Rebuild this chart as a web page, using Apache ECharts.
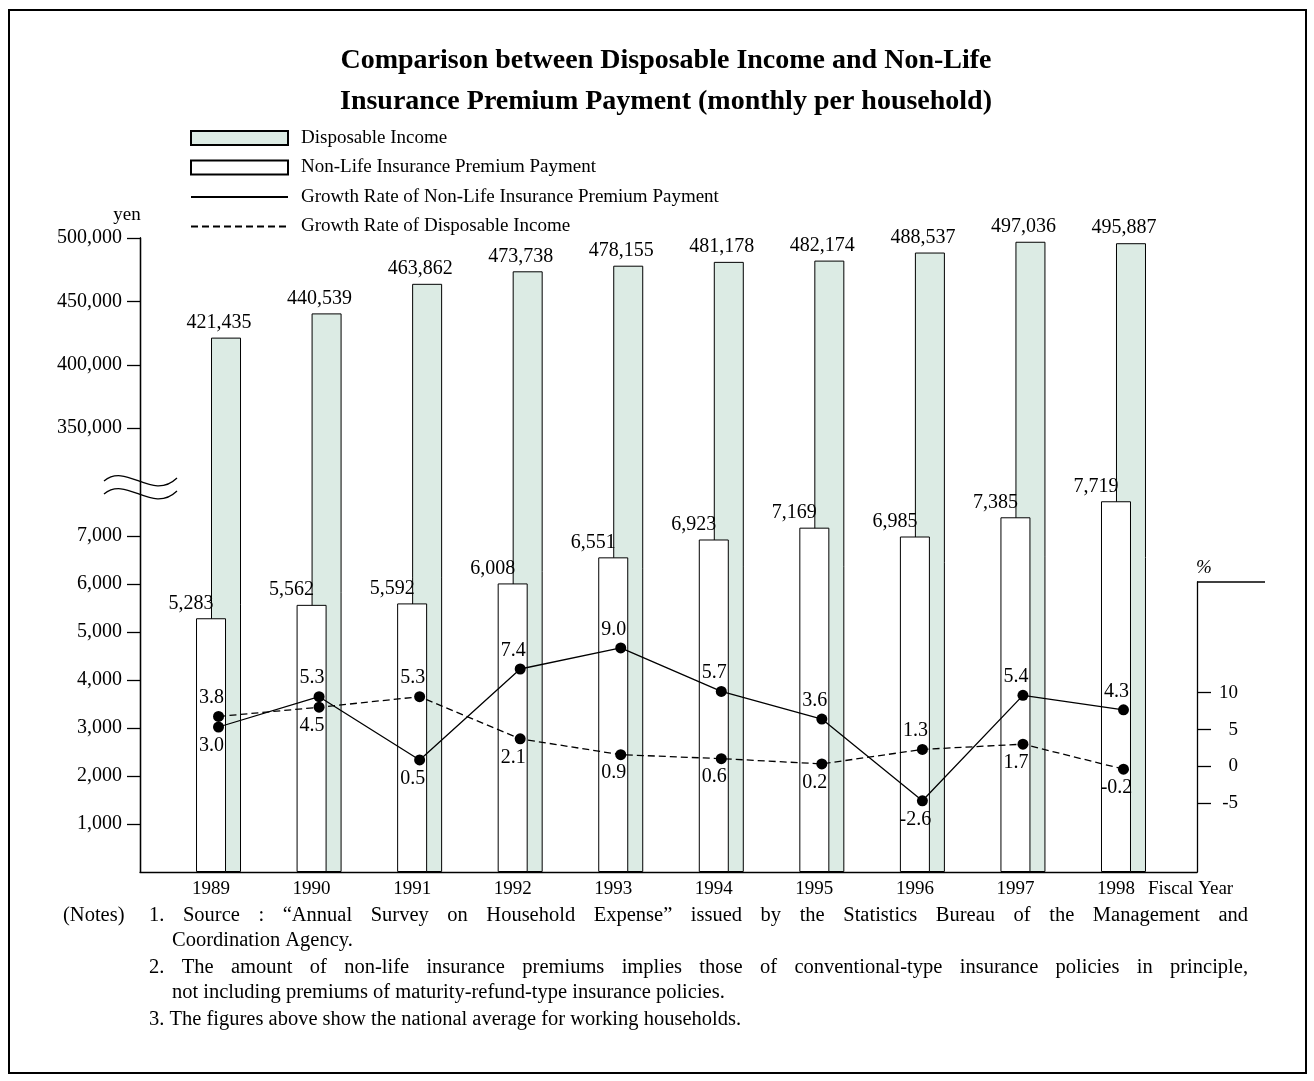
<!DOCTYPE html>
<html>
<head>
<meta charset="utf-8">
<script src="https://cdn.jsdelivr.net/npm/echarts@6/dist/echarts.min.js"></script>
<style>
html, body { margin: 0; padding: 0; background: #fff; }
#main { width: 1314px; height: 1081px; }
</style>
</head>
<body>
<div id="main"></div>
<script>
var chart = echarts.init(document.getElementById('main'));

var years = [1989, 1990, 1991, 1992, 1993, 1994, 1995, 1996, 1997, 1998];
var disposableIncome = [421435, 440539, 463862, 473738, 478155, 481178, 482174, 488537, 497036, 495887];
var premiumPayment = [5283, 5562, 5592, 6008, 6551, 6923, 7169, 6985, 7385, 7719];
var premiumGrowth = [3.0, 5.3, 0.5, 7.4, 9.0, 5.7, 3.6, -2.6, 5.4, 4.3];
var incomeGrowth = [3.8, 4.5, 5.3, 2.1, 0.9, 0.6, 0.2, 1.3, 1.7, -0.2];

var incomeTicks = [350000, 400000, 450000, 500000];
var premiumTicks = [1000, 2000, 3000, 4000, 5000, 6000, 7000];
var rateTicks = [-5, 0, 5, 10];

// which side of the dot each growth label sits on
var premiumGrowthLabelSide = ['bottom', 'top', 'bottom', 'top', 'top', 'top', 'top', 'bottom', 'top', 'top'];
var incomeGrowthLabelSide = ['top', 'bottom', 'top', 'bottom', 'bottom', 'bottom', 'bottom', 'top', 'bottom', 'bottom'];

var notes = [
    '1. Source : \u201cAnnual Survey on Household Expense\u201d issued by the Statistics Bureau of the Management and',
    'Coordination Agency.',
    '2. The amount of non-life insurance premiums implies those of conventional-type insurance policies in principle,',
    'not including premiums of maturity-refund-type insurance policies.',
    '3. The figures above show the national average for working households.'
];

var FONT = 'Liberation Serif';
var GREEN = '#dcebe4';
var NOTE_FONT = '20.5px "Liberation Serif"';

function pairs(vals) {
    return vals.map(function (v, i) { return [years[i], v]; });
}
function rateData(vals, sides) {
    return vals.map(function (v, i) {
        return { value: [years[i], v], label: { position: sides[i] } };
    });
}
function commas(v) {
    return v.toLocaleString('en-US');
}

// notes text, optionally stretched to a right edge like the printed original
var measure = document.createElement('canvas').getContext('2d');
measure.font = NOTE_FONT;
function noteLine(text, x, y, right) {
    if (!right) {
        return [{ type: 'text', x: x, y: y, style: { text: text, font: NOTE_FONT, fill: '#000', align: 'left', verticalAlign: 'top' } }];
    }
    var words = text.split(' ');
    var widths = words.map(function (w) { return measure.measureText(w).width; });
    var total = widths.reduce(function (a, b) { return a + b; }, 0);
    var gap = (right - x - total) / (words.length - 1);
    var cur = x;
    return words.map(function (w, i) {
        var el = { type: 'text', x: cur, y: y, style: { text: w, font: NOTE_FONT, fill: '#000', align: 'left', verticalAlign: 'top' } };
        cur += widths[i] + gap;
        return el;
    });
}

var txt = { fontFamily: FONT, fontSize: 20, color: '#000' };
var txt19 = { fontFamily: FONT, fontSize: 19, color: '#000' };
var blackLine = { show: true, lineStyle: { color: '#000', width: 1.3 } };

var graphics = [
    // frame
    { type: 'rect', shape: { x: 9, y: 10, width: 1297, height: 1063 }, style: { fill: 'none', stroke: '#000', lineWidth: 2 }, silent: true },
    // axis break mark
    { type: 'bezierCurve', shape: { x1: 104, y1: 481, cpx1: 127, cpy1: 462, cpx2: 152, cpy2: 502, x2: 177, y2: 478 }, style: { fill: 'none', stroke: '#000', lineWidth: 1.3 } },
    { type: 'bezierCurve', shape: { x1: 104, y1: 494, cpx1: 127, cpy1: 475, cpx2: 152, cpy2: 515, x2: 177, y2: 491 }, style: { fill: 'none', stroke: '#000', lineWidth: 1.3 } },
    // top cap of the % axis
    { type: 'line', shape: { x1: 1197, y1: 582, x2: 1265, y2: 582 }, style: { stroke: '#000', lineWidth: 1.3 } }
];
graphics = graphics
    .concat(noteLine('(Notes)', 63, 905))
    .concat(noteLine(notes[0], 149, 905, 1248))
    .concat(noteLine(notes[1], 172, 930))
    .concat(noteLine(notes[2], 149, 957, 1248))
    .concat(noteLine(notes[3], 172, 982))
    .concat(noteLine(notes[4], 149, 1009));

var option = {
    backgroundColor: '#fff',
    animation: false,
    title: {
        text: 'Comparison between Disposable Income and Non-Life\nInsurance Premium Payment (monthly per household)',
        left: 661,
        textAlign: 'center',
        top: 35,
        textStyle: { fontFamily: FONT, fontSize: 28, fontWeight: 'bold', color: '#000', lineHeight: 41 }
    },
    legend: {
        orient: 'vertical',
        left: 190,
        top: 128,
        padding: 0,
        itemWidth: 97,
        itemHeight: 14,
        itemGap: 9.5,
        textStyle: { fontFamily: FONT, fontSize: 19, color: '#000', lineHeight: 20, padding: [0, 0, 0, 8] },
        data: [
            { name: 'Disposable Income', icon: 'rect' },
            { name: 'Non-Life Insurance Premium Payment', icon: 'rect' },
            { name: 'Growth Rate of Non-Life Insurance Premium Payment', itemStyle: { opacity: 0 } },
            { name: 'Growth Rate of Disposable Income', itemStyle: { opacity: 0 } }
        ]
    },
    grid: [
        { left: 140, top: 238, width: 1057, height: 634, outerBoundsMode: 'none' },
        { left: 140, top: 582, width: 1057, height: 290, outerBoundsMode: 'none' }
    ],
    xAxis: [
        {
            type: 'value', gridIndex: 0, min: 1988.219, max: 1998.731,
            axisLine: blackLine,
            axisTick: { show: false },
            splitLine: { show: false },
            axisLabel: Object.assign({ customValues: years, margin: 8, padding: [0, 15, 0, 0], formatter: function (v) { return String(v); } }, txt19),
            name: 'Fiscal Year',
            nameLocation: 'end',
            nameGap: -49,
            nameTextStyle: Object.assign({ align: 'left', verticalAlign: 'top', lineHeight: 34 }, txt19)
        },
        {
            type: 'value', gridIndex: 1, min: 1988.219, max: 1998.731, show: false
        }
    ],
    yAxis: [
        {
            type: 'value', gridIndex: 0, position: 'left', min: 0, max: 500000,
            axisLine: blackLine,
            axisTick: { show: true, customValues: incomeTicks, length: 13, lineStyle: { color: '#000', width: 1.3 } },
            axisLabel: Object.assign({ customValues: incomeTicks, margin: 18 }, txt),
            splitLine: { show: false },
            name: 'yen',
            nameLocation: 'end',
            nameGap: 13,
            nameTextStyle: Object.assign({ align: 'center', padding: [0, 26, 0, 0] }, txt19)
        },
        {
            type: 'value', gridIndex: 0, position: 'left', min: 0, max: 13200,
            axisLine: blackLine,
            axisTick: { show: true, customValues: premiumTicks, length: 13, lineStyle: { color: '#000', width: 1.3 } },
            axisLabel: Object.assign({ customValues: premiumTicks, margin: 18 }, txt),
            splitLine: { show: false }
        },
        {
            type: 'value', gridIndex: 1, position: 'right', min: -14.3, max: 25,
            axisLine: blackLine,
            axisTick: { show: true, customValues: rateTicks, length: 14, lineStyle: { color: '#000', width: 1.3 } },
            axisLabel: Object.assign({ customValues: rateTicks, margin: 41, align: 'right' }, txt19),
            splitLine: { show: false },
            name: '%',
            nameLocation: 'end',
            nameGap: 5,
            nameTextStyle: Object.assign({ align: 'center', fontStyle: 'italic', padding: [0, 0, 0, 14] }, txt19)
        },
        {
            type: 'value', gridIndex: 1, min: -8, max: 14, show: false
        }
    ],
    series: [
        {
            name: 'Non-Life Insurance Premium Payment',
            type: 'bar',
            xAxisIndex: 0, yAxisIndex: 1,
            barWidth: 30, barGap: '-50%',
            z: 3,
            itemStyle: { color: '#fff', borderColor: '#000', borderWidth: 1 },
            label: Object.assign({ show: true, position: 'top', distance: 5, offset: [-20, 0], formatter: function (p) { return commas(p.value[1]); } }, txt),
            data: pairs(premiumPayment)
        },
        {
            name: 'Disposable Income',
            type: 'bar',
            xAxisIndex: 0, yAxisIndex: 0,
            barWidth: 30, barGap: '-50%',
            z: 2,
            itemStyle: { color: GREEN, borderColor: '#000', borderWidth: 1 },
            label: Object.assign({ show: true, position: 'top', distance: 5, offset: [-7, 0], formatter: function (p) { return commas(p.value[1]); } }, txt),
            data: pairs(disposableIncome)
        },
        {
            name: 'Growth Rate of Non-Life Insurance Premium Payment',
            type: 'line',
            xAxisIndex: 1, yAxisIndex: 3,
            z: 5,
            symbol: 'circle', symbolSize: 11,
            itemStyle: { color: '#000' },
            lineStyle: { color: '#000', width: 1.3, type: 'solid' },
            label: Object.assign({ show: true, distance: 3, offset: [-7, 0], formatter: function (p) { return p.value[1].toFixed(1); } }, txt),
            data: rateData(premiumGrowth, premiumGrowthLabelSide)
        },
        {
            name: 'Growth Rate of Disposable Income',
            type: 'line',
            xAxisIndex: 1, yAxisIndex: 3,
            z: 5,
            symbol: 'circle', symbolSize: 11,
            itemStyle: { color: '#000' },
            lineStyle: { color: '#000', width: 1.3, type: [7, 4] },
            label: Object.assign({ show: true, distance: 3, offset: [-7, 0], formatter: function (p) { return p.value[1].toFixed(1); } }, txt),
            data: rateData(incomeGrowth, incomeGrowthLabelSide)
        }
    ],
    graphic: graphics
};

chart.setOption(option);
window.onresize = chart.resize;
</script>
</body>
</html>
